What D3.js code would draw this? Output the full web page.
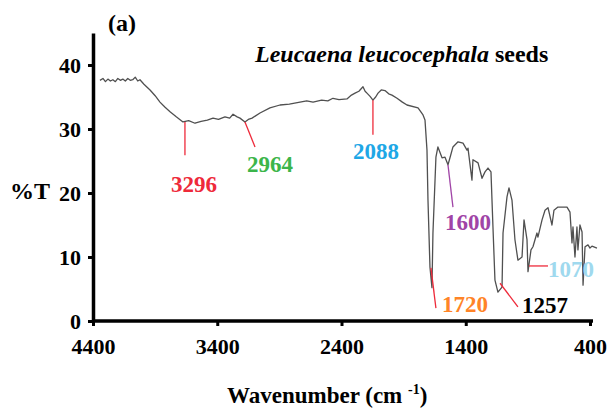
<!DOCTYPE html>
<html>
<head>
<meta charset="utf-8">
<script src="https://cdn.jsdelivr.net/npm/d3@7"></script>
<style>
  body { margin: 0; background: #fff; }
  text { font-family: "Liberation Serif", "Times New Roman", serif; font-weight: bold; }
</style>
</head>
<body>
<div id="chart"></div>
<script>
// FTIR spectrum (wavenumber, %T)
const wavenumbers = [4344, 4320, 4300, 4280, 4260, 4240, 4220, 4200, 4180, 4160, 4140, 4120, 4100, 4080, 4060, 4040, 4022,
  3990, 3941, 3900, 3861, 3820, 3780, 3730, 3676, 3630, 3579, 3530, 3480, 3434, 3390, 3338, 3300, 3273, 3240, 3217, 3177,
  3150, 3120, 3056, 2976, 2895, 2820, 2734, 2680, 2629, 2560, 2510, 2469, 2420, 2356, 2320, 2291, 2260, 2227, 2210, 2195,
  2170, 2147, 2125, 2106, 2080, 2050, 2020, 1994, 1953, 1910, 1873, 1784, 1744, 1728, 1712, 1704, 1688, 1672, 1664, 1640,
  1624, 1591, 1567, 1543, 1527, 1503, 1462, 1422, 1390, 1382, 1350, 1342, 1301, 1269, 1245, 1221, 1197, 1181, 1165, 1141,
  1108, 1100, 1068, 1052, 1028, 1004, 980, 947, 931, 907, 899, 875, 859, 827, 819, 786, 762, 738, 706, 690, 658, 585, 561,
  545, 537, 521, 505, 497, 481, 464, 456, 440, 416, 400, 384, 344];
const transmittance = [37.6, 37.9, 37.4, 37.8, 37.5, 37.7, 37.4, 37.9, 37.6, 37.8, 37.5, 37.9, 37.6, 37.7, 38.1, 37.5, 37.7,
  37.0, 36.1, 35.2, 34.2, 33.4, 32.7, 31.9, 31.1, 31.3, 30.9, 31.2, 31.4, 31.7, 31.5, 31.9, 31.7, 32.3, 31.9, 31.7, 31.1,
  31.5, 31.7, 32.5, 33.3, 33.75, 33.9, 34.2, 34.4, 34.2, 34.5, 34.4, 34.8, 34.6, 34.7, 35.3, 35.6, 35.9, 36.6, 35.9, 35.6,
  35.1, 34.5, 35.0, 35.6, 36.1, 36.0, 35.5, 35.3, 34.8, 34.2, 33.75, 33.3, 32.2, 31.4, 26.7, 18.9, 8.4, 5.2, 13.75, 25.6,
  27.2, 25.5, 25.6, 24.4, 25.5, 27.2, 28.0, 27.8, 26.7, 27.0, 22.0, 25.2, 24.7, 22.3, 23.3, 23.9, 23.3, 14.7, 6.4, 4.5,
  5.3, 13.75, 19.4, 20.8, 18.9, 12.7, 9.5, 10.0, 15.8, 12.7, 7.7, 11.1, 11.6, 13.75, 13.1, 15.8, 17.3, 17.7, 15.0, 17.3,
  17.8, 17.8, 17.0, 12.2, 14.7, 10.0, 14.7, 11.1, 15.0, 13.9, 5.6, 11.6, 11.9, 11.4, 11.7, 11.4];

const xTicks = [4400, 3400, 2400, 1400, 400];
const yTicks = [0, 10, 20, 30, 40];

// peak annotations: leader line (from -> to) and label anchor, all in data units
const peakNames = ["3296", "2964", "2088", "1600", "1720", "1257", "1070"];
const peakTextColors = ["#ee2a3a", "#3cb54a", "#1ea7e6", "#a044a6", "#ff8427", "#000000", "#9fd9ee"];
const peakLineColors = ["#ee2a3a", "#ee2a3a", "#ee2a3a", "#a044a6", "#ee2a3a", "#ee2a3a", "#ee2a3a"];
const lineFrom = [[3660, 31.1], [3177, 31.1], [2147, 34.5], [1543, 24.4], [1680, 8.3], [1124, 5.9], [891, 8.6]];
const lineTo = [[3660, 25.9], [3096, 27.2], [2147, 29.1], [1503, 17.8], [1640, 2.0], [980, 2.2], [738, 8.6]];
const labelAt = [[3588, 20.2], [2975, 23.3], [2122, 25.3], [1382, 14.2], [1406, 1.4], [762, 1.25], [553, 6.9]];

const W = 616, H = 410;
const margin = { top: 33, right: 26, bottom: 89, left: 93 };

const svg = d3.select("#chart").append("svg")
  .attr("width", W)
  .attr("height", H);

const x = d3.scaleLinear().domain([4400, 400]).range([margin.left, 590]);
const y = d3.scaleLinear().domain([0, 45]).range([H - margin.bottom, margin.top]);

// axes
const xAxis = svg.append("g")
  .attr("transform", `translate(0,${y(0)})`)
  .call(d3.axisBottom(x).tickValues(xTicks).tickSize(5).tickSizeOuter(0).tickFormat(d3.format("d")));
const yAxis = svg.append("g")
  .attr("transform", `translate(${x(4400)},0)`)
  .call(d3.axisLeft(y).tickValues(yTicks).tickSize(5).tickSizeOuter(0));

[xAxis, yAxis].forEach(g => {
  g.select(".domain").attr("stroke", "#000").attr("stroke-width", 3.5);
  g.selectAll(".tick line").attr("stroke", "#000").attr("stroke-width", 3);
  g.selectAll(".tick text")
    .attr("fill", "#000")
    .style("font-size", "22px")
    .style("font-family", "'Liberation Serif', serif")
    .style("font-weight", "bold");
});
// extend x axis line a touch past 400, like the original
xAxis.select(".domain").attr("d", `M${x(4400)},0H${x(400) + 3}`);
xAxis.selectAll(".tick text").attr("y", 17).attr("dy", "0.71em");
yAxis.selectAll(".tick text").attr("x", -12).attr("dy", "0.35em");

// spectrum
const spectrum = wavenumbers.map((w, i) => ({ w: w, t: transmittance[i] }));
svg.append("path")
  .datum(spectrum)
  .attr("fill", "none")
  .attr("stroke", "#505050")
  .attr("stroke-width", 1.3)
  .attr("stroke-linejoin", "round")
  .attr("d", d3.line().x(d => x(d.w)).y(d => y(d.t)));

// peak leader lines + labels
const peaks = svg.append("g");
peakNames.forEach((name, i) => {
  peaks.append("line")
    .attr("x1", x(lineFrom[i][0])).attr("y1", y(lineFrom[i][1]))
    .attr("x2", x(lineTo[i][0])).attr("y2", y(lineTo[i][1]))
    .attr("stroke", peakLineColors[i])
    .attr("stroke-width", 1.3);
  peaks.append("text")
    .attr("x", x(labelAt[i][0]))
    .attr("y", y(labelAt[i][1]))
    .attr("text-anchor", "middle")
    .attr("fill", peakTextColors[i])
    .style("font-size", "23px")
    .text(name);
});

// titles
svg.append("text")
  .attr("x", 108).attr("y", 31)
  .style("font-size", "24px")
  .text("(a)");

const title = svg.append("text")
  .attr("x", 255).attr("y", 62)
  .style("font-size", "24px");
title.append("tspan").style("font-style", "italic").text("Leucaena leucocephala");
title.append("tspan").text(" seeds");

svg.append("text")
  .attr("x", 10).attr("y", 199)
  .style("font-size", "24px")
  .text("%T");

const xlab = svg.append("text")
  .attr("x", 227).attr("y", 403)
  .style("font-size", "23px");
xlab.append("tspan").text("Wavenumber (cm ");
xlab.append("tspan").attr("dy", -9).style("font-size", "14px").text("-1");
xlab.append("tspan").attr("dy", 9).text(")");
</script>
</body>
</html>
